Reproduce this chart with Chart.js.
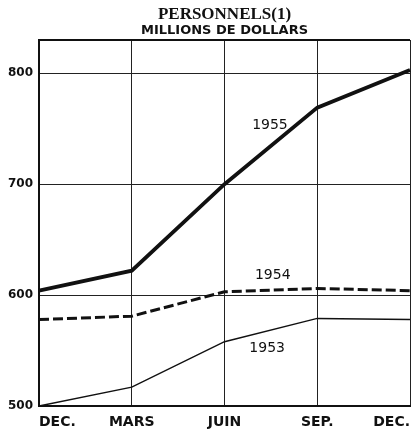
<!DOCTYPE html>
<html>
<head>
<meta charset="utf-8">
<script src="https://cdn.jsdelivr.net/npm/chart.js@4"></script>
<style>
  html, body { margin: 0; padding: 0; background: #fff; overflow: hidden; }
  #wrap { width: 413px; height: 429px; overflow: hidden; }
</style>
</head>
<body>
<div id="wrap"><canvas id="chart" width="418" height="429"></canvas></div>
<script>
// data (millions of dollars)
const months = ['DEC.', 'MARS', 'JUIN', 'SEP.', 'DEC.'];
const y1953 = [500, 517, 558, 579, 578];
const y1954 = [578, 581, 603, 606, 604];
const y1955 = [604, 622, 700, 769, 803];
const yTicks = [500, 600, 700, 800];

// series labels written on the chart: [text, category index, value]
const seriesLabels = [
    ['1955', 2.49, 753],
    ['1954', 2.52, 618],
    ['1953', 2.46, 552],
];

const ink = '#111';

const labelPlugin = {
    id: 'labels',
    afterDraw(chart) {
        const ctx = chart.ctx;
        const area = chart.chartArea;
        const xs = chart.scales.x, ys = chart.scales.y;
        ctx.save();
        ctx.fillStyle = ink;
        ctx.textAlign = 'center';
        ctx.textBaseline = 'middle';
        const cx = (area.left + area.right) / 2;
        ctx.font = 'bold 17px "Liberation Serif"';
        ctx.fillText('PERSONNELS(1)', cx, 15);
        ctx.font = 'bold 13px "DejaVu Sans"';
        ctx.fillText('MILLIONS DE DOLLARS', cx, 31);
        ctx.font = '14px "DejaVu Sans"';
        seriesLabels.forEach(function (l) {
            ctx.fillText(l[0], xs.getPixelForValue(l[1]), ys.getPixelForValue(l[2]));
        });
        ctx.restore();
    }
};

const ctx = document.getElementById('chart').getContext('2d');
new Chart(ctx, {
    type: 'line',
    data: {
        labels: months,
        datasets: [
            { label: '1955', data: y1955, borderColor: ink, borderWidth: 3.8 },
            { label: '1954', data: y1954, borderColor: ink, borderWidth: 3, borderDash: [10, 4] },
            { label: '1953', data: y1953, borderColor: ink, borderWidth: 1.5 },
        ]
    },
    options: {
        responsive: false,
        animation: false,
        layout: { padding: { top: 40, right: 4, left: 0, bottom: 0 } },
        elements: { point: { radius: 0 }, line: { tension: 0 } },
        plugins: { legend: { display: false }, tooltip: { enabled: false } },
        scales: {
            x: {
                offset: false,
                grid: { color: '#222', lineWidth: 1, drawTicks: false },
                border: { color: ink, width: 2 },
                ticks: {
                    color: ink, align: 'inner', padding: 8, maxRotation: 0,
                    font: { family: 'DejaVu Sans', weight: 'bold', size: 14 }
                },
                afterFit(s) { s.height = 23; }
            },
            y: {
                min: 500, max: 830,
                grid: { color: function (c) { return c.tick.value === 830 ? ink : '#222'; },
                        lineWidth: function (c) { return c.tick.value === 830 ? 2 : 1; },
                        drawTicks: false },
                border: { color: ink, width: 2 },
                ticks: {
                    color: ink, stepSize: 100, padding: 6,
                    font: { family: 'DejaVu Sans', weight: 'bold', size: 12 },
                    callback: function (v) { return yTicks.includes(v) ? v : ''; }
                },
                afterFit(s) { s.width = 39; }
            }
        }
    },
    plugins: [labelPlugin]
});
</script>
</body>
</html>
